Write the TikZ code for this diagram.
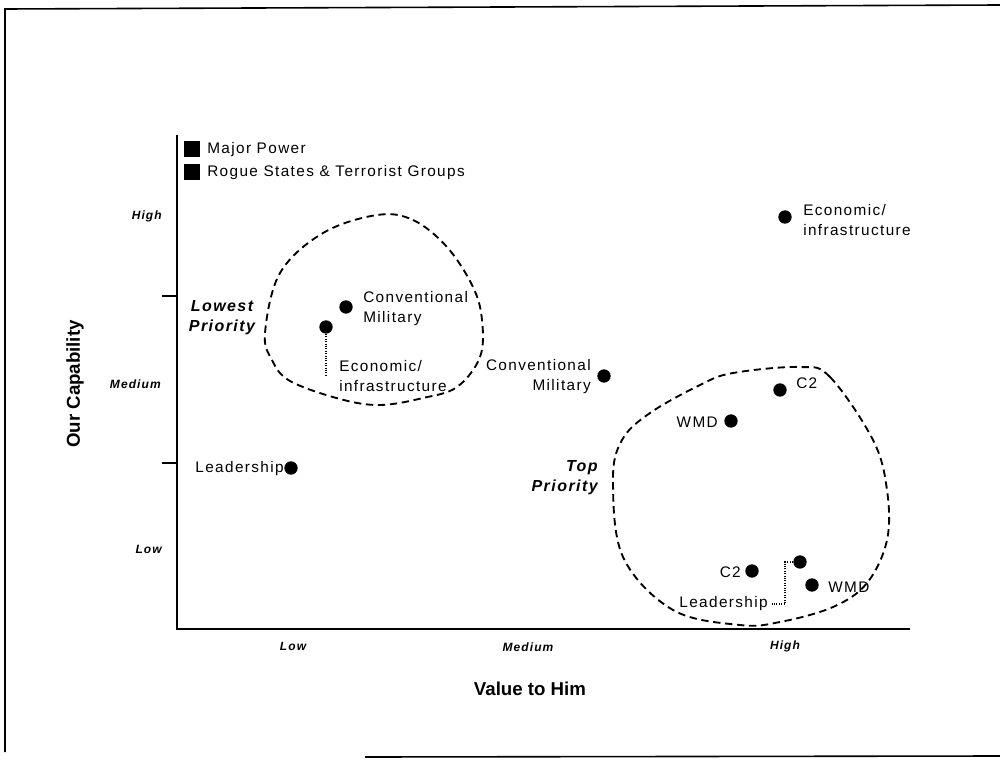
\documentclass[tikz,border=0pt]{standalone}
\usepackage{fontspec}
\setmainfont{Liberation Sans}[LetterSpace=9]
\newfontfamily\titlefont{Liberation Sans}
\usetikzlibrary{calc}
\begin{document}
\begin{tikzpicture}[x=0.75pt,y=-0.75pt,
  dot/.style={circle,fill=black,inner sep=0pt,minimum size=10pt},
  lbl/.style={font=\fontsize{11.5}{15}\selectfont,inner sep=0pt,align=left},
  lblr/.style={lbl,align=right},
  tick/.style={font=\fontsize{9}{11}\selectfont\bfseries\itshape,inner sep=0pt},
  prio/.style={font=\fontsize{12}{15}\selectfont\bfseries\itshape,inner sep=0pt},
  axtitle/.style={font=\titlefont\fontsize{14}{16}\selectfont\bfseries,inner sep=0pt},
  region/.style={dash pattern=on 5.5pt off 3.5pt,line width=1.4pt},
  leader/.style={densely dotted,line width=0.8pt},
  axis/.style={line width=1.4pt},
  legsq/.style={fill=black,minimum size=12pt,inner sep=0pt}]
\useasboundingbox (0,0) rectangle (1000,760);

% frame
\draw[line width=1.2pt] (1000,5) -- (5,9) -- (5,752);
\draw[line width=1.2pt] (365,757) -- (1000,756);

% axes and ticks
\coordinate (ytop) at (177,135);
\coordinate (orig) at (177,629);
\coordinate (xend) at (910,629);
\draw[axis] (ytop) -- (orig) -- (xend);
\draw[axis] (162,296) -- (177,296);
\draw[axis] (162,463) -- (177,463);

% tick labels
\node[tick,anchor=east] (yhigh) at (162,216) {High};
\node[tick,anchor=east] (ymed) at (161,384) {Medium};
\node[tick,anchor=east] (ylow) at (162,549) {Low};
\node[tick] (xlow) at (293,646) {Low};
\node[tick] (xmed) at (528,647) {Medium};
\node[tick] (xhigh) at (785,646) {High};

% axis titles
\node[axtitle,rotate=90] (ytitle) at (75,384) {Our Capability};
\node[axtitle] (xtitle) at (530,689) {Value to Him};

% legend
\node[legsq] (sq1) at (192,149) {};
\node[legsq] (sq2) at (192,172) {};
\node[lbl,anchor=west] (leg1) at (207,150) {Major Power};
\node[lbl,anchor=west] (leg2) at (207,173) {Rogue States \& Terrorist Groups};

% priority regions
\draw[region] plot[smooth cycle,tension=0.6] coordinates {
  (377,215) (413,220) (447,247) (473,287) (482,320) (480,357) (457,387)
  (423,398) (380,405) (340,399) (290,381) (272,360) (265,333) (280,273) (323,233)};
\draw[region] plot[smooth cycle,tension=0.6] coordinates {
  (800,367) (830,377) (873,440) (887,490) (887,540) (867,583) (833,607)
  (780,622) (740,625) (673,610) (623,557) (613,480) (622,440) (650,413)
  (700,385) (733,373)};

\node[prio,align=center] (lowprio) at (222,318) {Lowest\\Priority};
\node[prio,align=right,anchor=east] (topprio) at (598,478) {Top\\Priority};

% points
\node[dot] (convA) at (346,307) {};
\node[lbl,anchor=west] (convAlab) at (363,309) {Conventional\\Military};
\node[dot] (econA) at (326,327) {};
\node[lbl,anchor=west] (econAlab) at (339,376) {Economic/\\infrastructure};
\draw[leader] (econA.south) -- (econA.south |- econAlab.center);

\node[dot] (leadA) at (291,468) {};
\node[lbl,anchor=east] (leadAlab) at (284,469) {Leadership};

\node[dot] (convB) at (604,376) {};
\node[lblr,anchor=east] (convBlab) at (591,377) {Conventional\\Military};

\node[dot] (econB) at (785,217) {};
\node[lbl,anchor=west] (econBlab) at (803,220) {Economic/\\infrastructure};

\node[dot] (c2A) at (780,390) {};
\node[lbl,anchor=west] (c2Alab) at (796,383) {C2};
\node[dot] (wmdA) at (731,421) {};
\node[lbl,anchor=east] (wmdAlab) at (718,422) {WMD};

\node[dot] (c2B) at (752,571) {};
\node[lbl,anchor=east] (c2Blab) at (741,572) {C2};
\node[dot] (wmdB) at (812,585) {};
\node[lbl,anchor=west] (wmdBlab) at (828,587) {WMD};
\node[dot] (leadB) at (800,562) {};
\node[lbl,anchor=east] (leadBlab) at (768,604) {Leadership};
\draw[leader] (leadB.west) -- (785,562) |- ($(leadBlab.east)+(4,0)$);
\end{tikzpicture}
\end{document}
